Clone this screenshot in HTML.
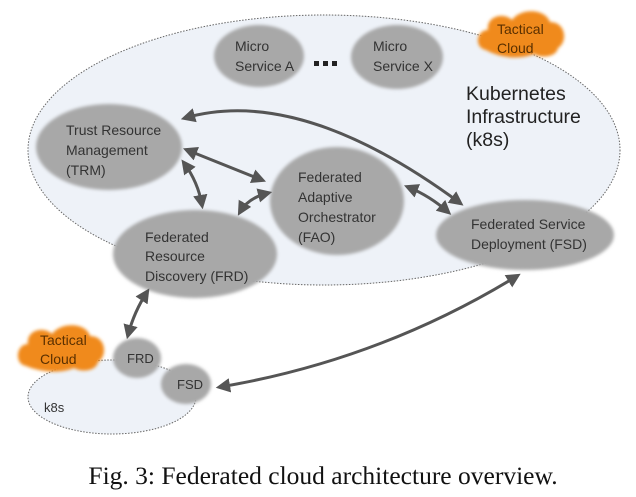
<!DOCTYPE html>
<html><head><meta charset="utf-8"><style>
html,body{margin:0;padding:0;background:#fff;}
svg{display:block;}
.t{font-family:"Liberation Sans","DejaVu Sans",sans-serif;font-size:14px;fill:#333;}
</style></head><body>
<svg width="636" height="497" viewBox="0 0 636 497" xmlns="http://www.w3.org/2000/svg">
<defs>
<filter id="b" x="-20%" y="-20%" width="140%" height="140%"><feGaussianBlur stdDeviation="1.5"/></filter>
<marker id="a" viewBox="0 0 10 10" refX="7" refY="5" markerWidth="4.8" markerHeight="4.8" orient="auto-start-reverse"><path d="M0,0 L10,5 L0,10 z" fill="#555"/></marker>
</defs>
<rect width="636" height="497" fill="#fff"/>
<ellipse cx="324" cy="150" rx="296" ry="135" fill="#eef2f8" stroke="#666" stroke-width="1" stroke-dasharray="1.5,1.5"/>
<ellipse cx="112" cy="397" rx="84" ry="37" fill="#eef2f8" stroke="#666" stroke-width="1" stroke-dasharray="1.5,1.5"/>
<g fill="#a8a8a8" filter="url(#b)">
<ellipse cx="259" cy="56" rx="45" ry="31"/>
<ellipse cx="397" cy="57" rx="46" ry="32"/>
<ellipse cx="109" cy="147" rx="73" ry="43"/>
<ellipse cx="337" cy="201" rx="67" ry="54"/>
<ellipse cx="195" cy="254" rx="82" ry="44"/>
<ellipse cx="525" cy="235" rx="89" ry="35"/>
<ellipse cx="137" cy="358" rx="24" ry="20"/>
<ellipse cx="186" cy="384" rx="25" ry="20"/>
</g>
<g fill="#f08a1c" filter="url(#b)">
<path d="M486,50 C474,48 476,30 488,30 C486,16 504,12 512,20 C520,8 545,8 550,22 C566,22 568,42 558,48 C556,58 540,58 534,54 C520,60 500,58 486,50 Z"/>
<path d="M26,366 C14,364 16,344 28,344 C26,330 44,326 52,334 C60,322 86,322 90,336 C106,336 108,356 98,362 C96,372 80,372 74,368 C60,374 40,372 26,366 Z"/>
</g>
<g fill="#222"><rect x="314" y="61" width="5" height="5"/><rect x="323" y="61" width="5" height="5"/><rect x="332" y="61" width="5" height="5"/></g>
<g stroke="#555" stroke-width="3" fill="none" marker-start="url(#a)" marker-end="url(#a)">
<path d="M185,118 Q300,85 460,203"/>
<path d="M187,150 L262,180"/>
<path d="M184,163 Q198,182 202,205"/>
<path d="M268,193 Q248,198 240,212"/>
<path d="M408,187 Q430,196 448,212"/>
<path d="M147,292 Q134,312 128,335"/>
<path d="M517,276 Q380,360 220,387"/>
</g>
<text class="t" x="235" y="51">Micro</text>
<text class="t" x="235" y="71">Service A</text>
<text class="t" x="373" y="51">Micro</text>
<text class="t" x="373" y="71">Service X</text>
<text class="t" x="497" y="34" style="fill:#5a3000">Tactical</text>
<text class="t" x="497" y="53" style="fill:#5a3000">Cloud</text>
<text class="t" x="466" y="100" style="font-size:19.5px;fill:#222">Kubernetes</text>
<text class="t" x="466" y="123" style="font-size:19.5px;fill:#222">Infrastructure</text>
<text class="t" x="466" y="146" style="font-size:19.5px;fill:#222">(k8s)</text>
<text class="t" x="66" y="135">Trust Resource</text>
<text class="t" x="66" y="155">Management</text>
<text class="t" x="66" y="175">(TRM)</text>
<text class="t" x="298" y="182">Federated</text>
<text class="t" x="298" y="202">Adaptive</text>
<text class="t" x="298" y="222">Orchestrator</text>
<text class="t" x="298" y="242">(FAO)</text>
<text class="t" x="145" y="242">Federated</text>
<text class="t" x="145" y="261">Resource</text>
<text class="t" x="145" y="281">Discovery (FRD)</text>
<text class="t" x="471" y="229">Federated Service</text>
<text class="t" x="471" y="249">Deployment (FSD)</text>
<text class="t" x="40" y="345" style="fill:#5a3000">Tactical</text>
<text class="t" x="40" y="364" style="fill:#5a3000">Cloud</text>
<text class="t" x="127" y="363" style="font-size:13px">FRD</text>
<text class="t" x="177" y="389" style="font-size:13px">FSD</text>
<text class="t" x="44" y="412" style="font-size:13px">k8s</text>
<text x="323" y="484" text-anchor="middle" style="font-family:'Liberation Serif',serif;font-size:25.5px;fill:#111">Fig. 3: Federated cloud architecture overview.</text>
</svg>
</body></html>
